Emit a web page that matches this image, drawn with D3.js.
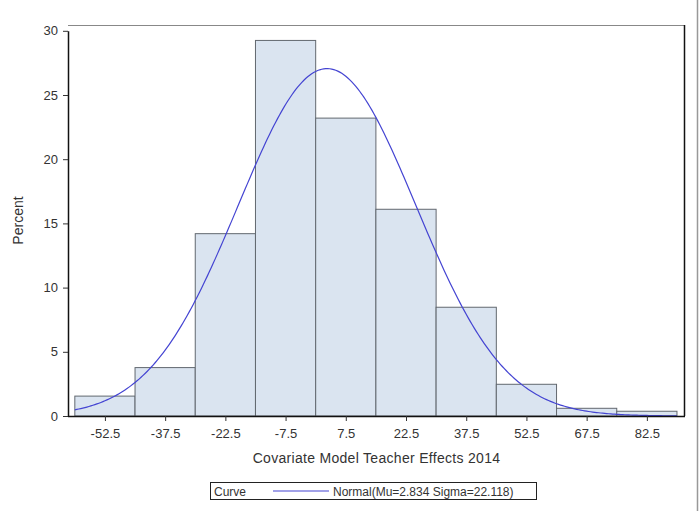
<!DOCTYPE html>
<html>
<head>
<meta charset="utf-8">
<script src="https://cdn.jsdelivr.net/npm/d3@7"></script>
<style>
  body { margin: 0; background: #fff; }
  text { font-family: "Liberation Sans", Arial, sans-serif; fill: #333; }
</style>
</head>
<body>
<div id="chart"></div>
<script>
const AREA_WIDTH = 699;
const AREA_HEIGHT = 511;

// histogram bins (midpoints) and percent per bin
const binMids = [-52.5, -37.5, -22.5, -7.5, 7.5, 22.5, 37.5, 52.5, 67.5, 82.5];
const percents = [1.55, 3.77, 14.2, 29.25, 23.2, 16.1, 8.47, 2.47, 0.6, 0.37];
const binWidth = 15;
const yTicks = [0, 5, 10, 15, 20, 25, 30];
const curveMu = 2.834;
const curveSigma = 22.118;

const PLOT = { LEFT: 68, RIGHT: 685, TOP: 25, BOTTOM: 416 };

const svg = d3.select('#chart')
              .append('svg')
              .attr('width', AREA_WIDTH)
              .attr('height', AREA_HEIGHT);

const x = d3.scaleLinear()
              .domain([-61.7, 92.0])
              .range([PLOT.LEFT, PLOT.RIGHT]);

const y = d3.scaleLinear()
              .domain([0, 30])
              .range([PLOT.BOTTOM, 30.8]);

// bars
svg.append('g')
     .selectAll('rect')
     .data(binMids.map((m, i) => ({ mid: m, pct: percents[i] })))
     .enter()
     .append('rect')
     .attr('x', d => x(d.mid - binWidth / 2))
     .attr('width', d => x(d.mid + binWidth / 2) - x(d.mid - binWidth / 2))
     .attr('y', d => y(d.pct))
     .attr('height', d => y(0) - y(d.pct))
     .attr('fill', '#dae4f0')
     .attr('stroke', '#62686f')
     .attr('stroke-width', 1);

// fitted normal curve from the legend parameters
const curvePts = d3.range(-60, 90.01, 0.5).map(v => {
  const z = (v - curveMu) / curveSigma;
  return [v, 100 * binWidth * Math.exp(-0.5 * z * z) / (curveSigma * Math.sqrt(2 * Math.PI))];
});
svg.append('path')
     .datum(curvePts)
     .attr('fill', 'none')
     .attr('stroke', '#4444d2')
     .attr('stroke-width', 1.2)
     .attr('d', d3.line().x(d => x(d[0])).y(d => y(d[1])));

// frame
svg.append('line')
     .attr('x1', PLOT.LEFT).attr('x2', PLOT.RIGHT)
     .attr('y1', PLOT.TOP + 0.5).attr('y2', PLOT.TOP + 0.5)
     .attr('stroke', '#888');
svg.append('line')
     .attr('x1', PLOT.RIGHT - 0.5).attr('x2', PLOT.RIGHT - 0.5)
     .attr('y1', PLOT.TOP).attr('y2', PLOT.BOTTOM)
     .attr('stroke', '#111').attr('stroke-width', 1.5);

// axes
const xAxis = svg.append('g')
     .attr('transform', `translate(0, ${PLOT.BOTTOM})`)
     .call(d3.axisBottom(x).tickValues(binMids).tickFormat(d => d.toFixed(1)).tickSize(5).tickSizeOuter(0));
const yAxis = svg.append('g')
     .attr('transform', `translate(${PLOT.LEFT}, 0)`)
     .call(d3.axisLeft(y).tickValues(yTicks).tickSize(5).tickSizeOuter(0));

[xAxis, yAxis].forEach(a => {
  a.select('.domain').attr('stroke', '#111').attr('stroke-width', 1.5);
  a.selectAll('.tick line').attr('stroke', '#333');
  a.selectAll('.tick text')
     .style('font-family', '"Liberation Sans", Arial, sans-serif')
     .style('font-size', '13px')
     .attr('fill', '#3a3a3a');
});
xAxis.select('.domain').attr('d', `M${PLOT.LEFT},0.5H${PLOT.RIGHT}`);
xAxis.selectAll('.tick text').attr('dy', '1.05em');
yAxis.selectAll('.tick text').attr('x', -10);

// axis labels
svg.append('text')
     .attr('x', (PLOT.LEFT + PLOT.RIGHT) / 2)
     .attr('y', 463)
     .style('text-anchor', 'middle')
     .style('font-size', '14px')
     .style('letter-spacing', '0.3px')
     .text('Covariate Model Teacher Effects 2014');

svg.append('text')
     .attr('transform', `translate(23, ${(PLOT.TOP + PLOT.BOTTOM) / 2}) rotate(-90)`)
     .style('text-anchor', 'middle')
     .style('font-size', '14px')
     .text('Percent');

// legend
const legend = svg.append('g');
legend.append('rect')
        .attr('x', 210.5).attr('y', 482.5)
        .attr('width', 326).attr('height', 17)
        .attr('fill', '#fff')
        .attr('stroke', '#222');
legend.append('text')
        .attr('x', 214).attr('y', 495.5)
        .style('font-size', '12px')
        .text('Curve');
legend.append('line')
        .attr('x1', 273).attr('x2', 329)
        .attr('y1', 491).attr('y2', 491)
        .attr('stroke', '#4444d2').attr('stroke-width', 1.2);
legend.append('text')
        .attr('x', 333).attr('y', 495.5)
        .style('font-size', '12px')
        .text(`Normal(Mu=${curveMu} Sigma=${curveSigma})`);

// outer image border on the right
svg.append('line')
     .attr('x1', 697.5).attr('x2', 697.5)
     .attr('y1', 0).attr('y2', AREA_HEIGHT)
     .attr('stroke', '#999').attr('stroke-width', 1.5);
</script>
</body>
</html>
